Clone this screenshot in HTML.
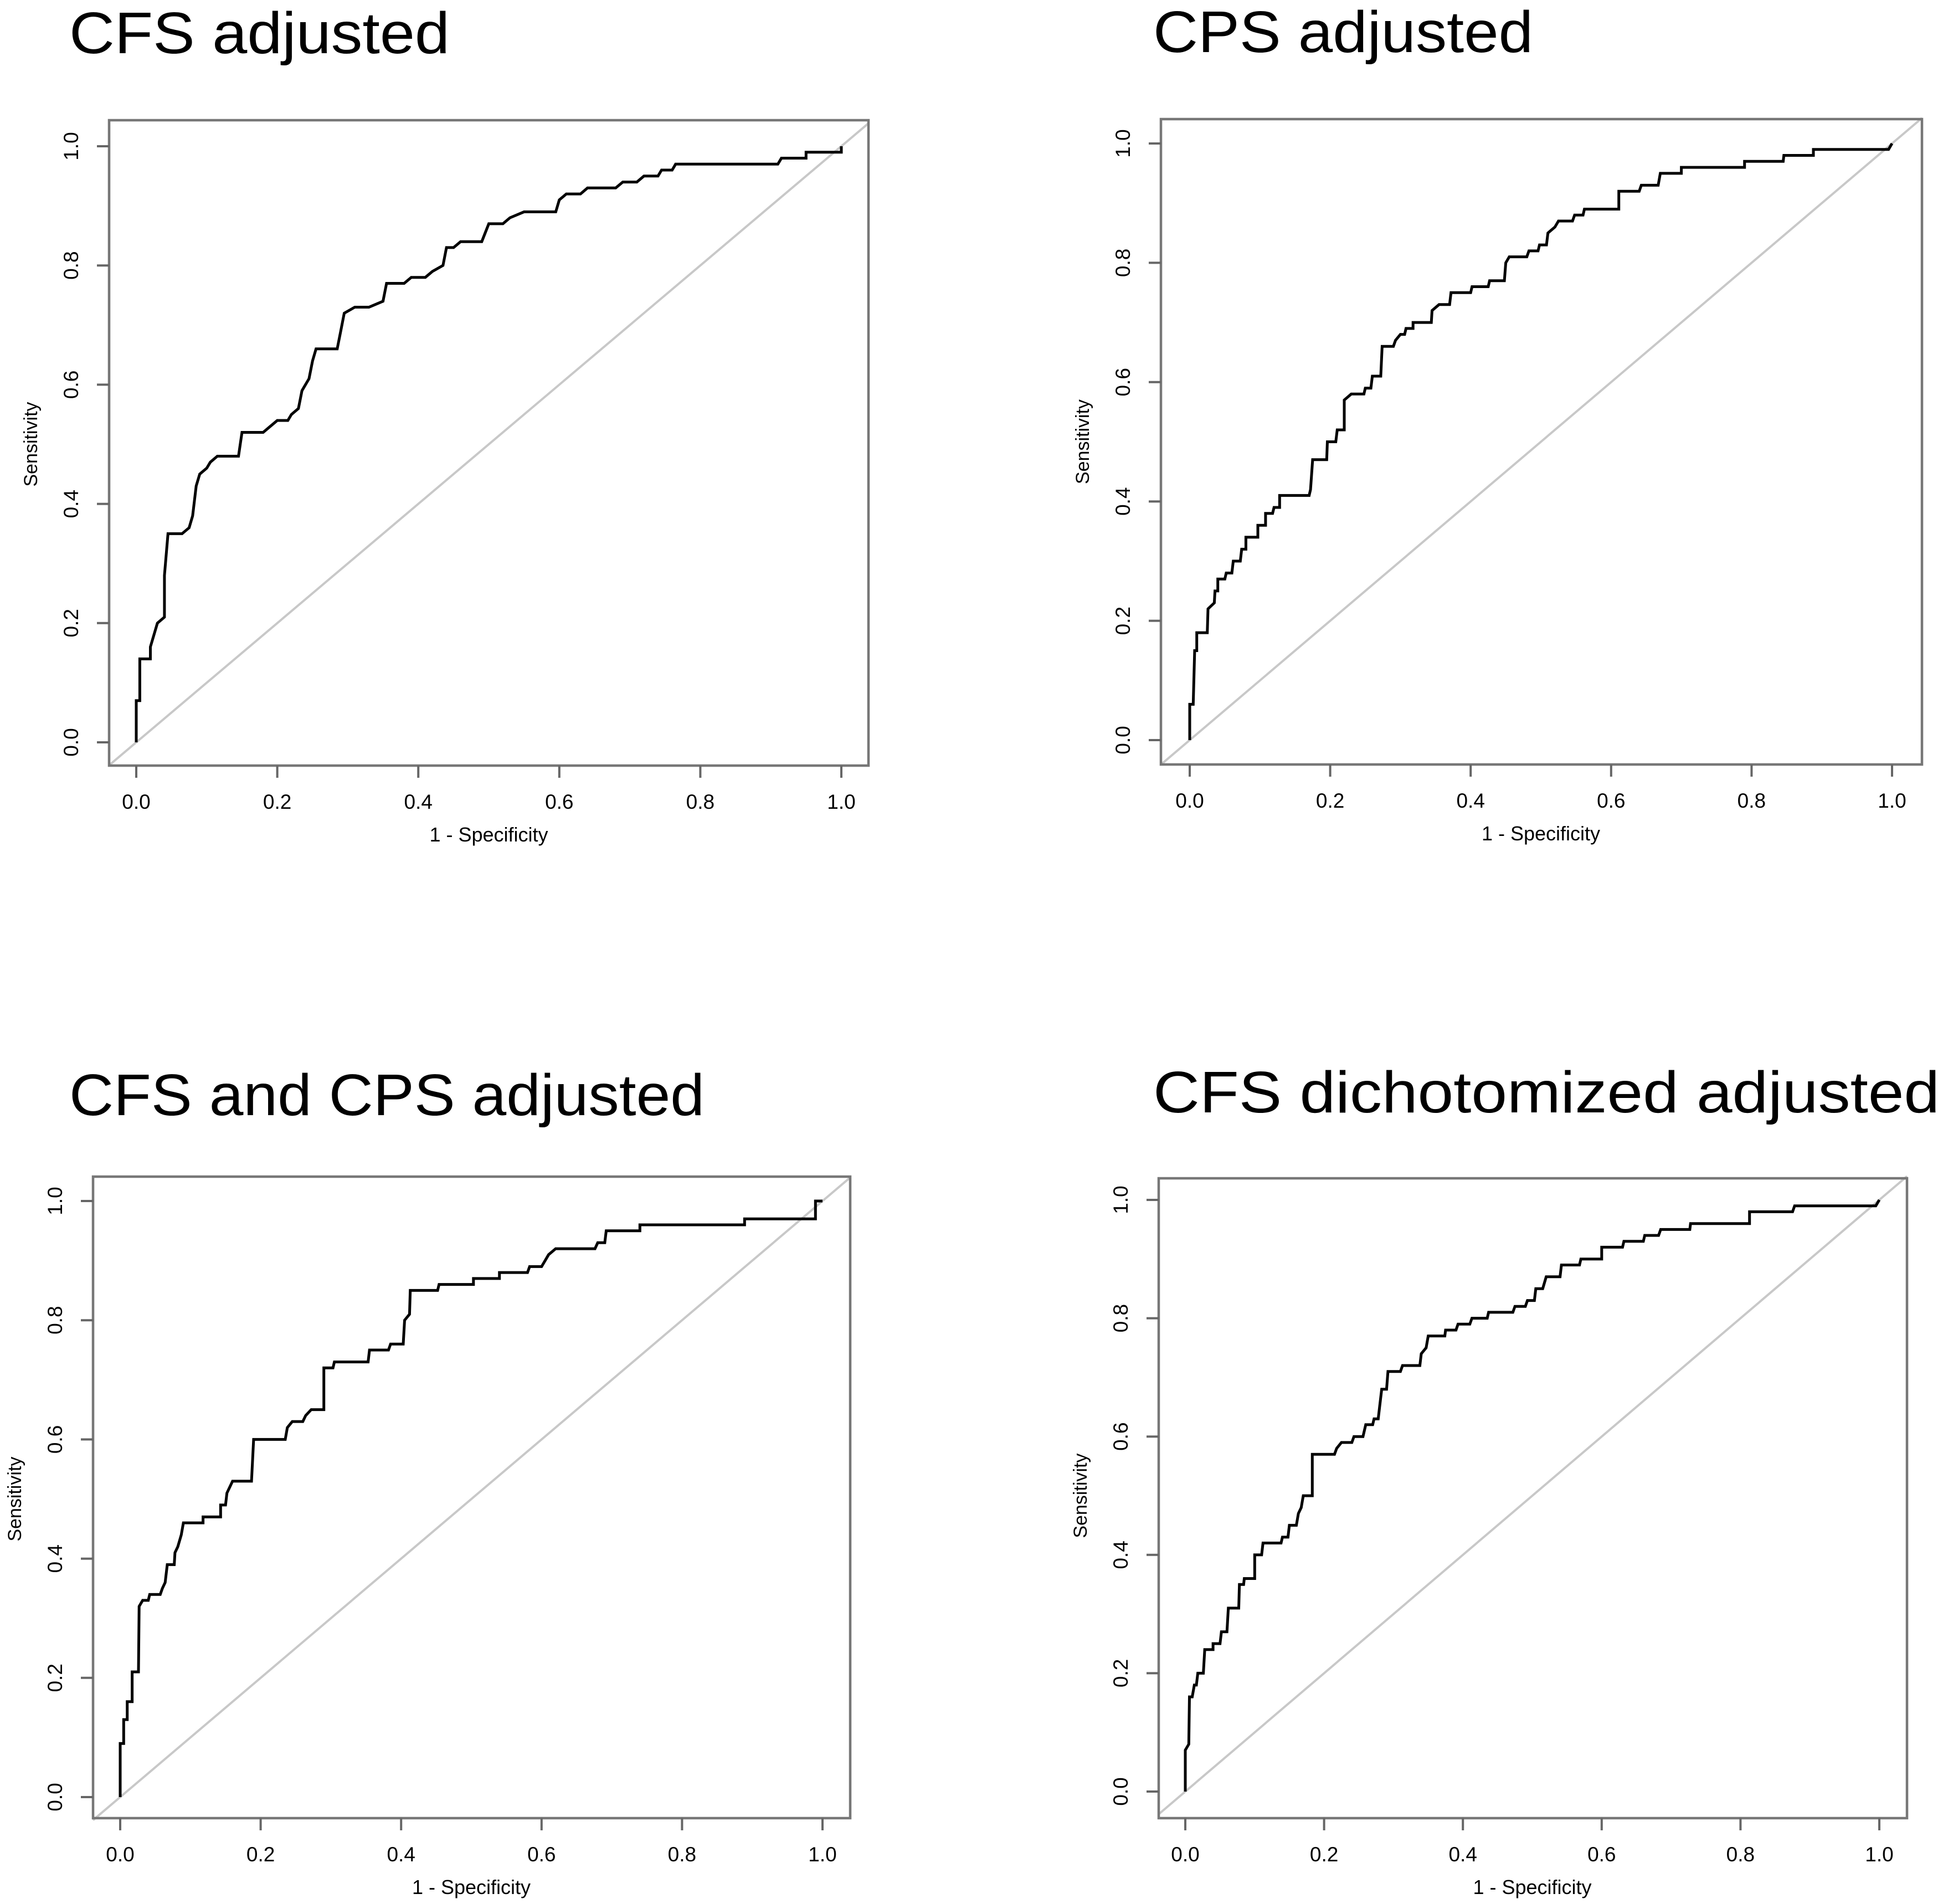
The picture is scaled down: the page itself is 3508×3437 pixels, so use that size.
<!DOCTYPE html>
<html><head><meta charset="utf-8"><title>ROC curves</title>
<style>
html,body{margin:0;padding:0;background:#fff;}
svg{display:block;}
text{font-family:"Liberation Sans",Arial,sans-serif;fill:#000;}
</style></head>
<body>
<svg id="fig" width="3508" height="3437" viewBox="0 0 3508 3437" xmlns="http://www.w3.org/2000/svg"></svg>
<script>
const xTicks = [0, 0.2, 0.4, 0.6, 0.8, 1.0];
const yTicks = [0, 0.2, 0.4, 0.6, 0.8, 1.0];
const tickLabels = ["0.0", "0.2", "0.4", "0.6", "0.8", "1.0"];
const titles = ["CFS adjusted", "CPS adjusted", "CFS and CPS adjusted", "CFS dichotomized adjusted"];

const fpr1 = [0,0,0.005,0.005,0.02,0.02,0.03,0.04,0.04,0.045,0.065,0.075,0.08,0.085,0.09,0.1,0.105,0.115,0.145,0.15,0.18,0.19,0.2,0.215,0.22,0.23,0.235,0.245,0.25,0.255,0.285,0.29,0.295,0.31,0.33,0.35,0.355,0.38,0.39,0.41,0.42,0.435,0.44,0.45,0.46,0.49,0.5,0.52,0.53,0.55,0.595,0.6,0.61,0.63,0.64,0.68,0.69,0.71,0.72,0.74,0.745,0.76,0.765,0.91,0.915,0.95,0.95,1,1];
const tpr1 = [0,0.07,0.07,0.14,0.14,0.16,0.2,0.21,0.28,0.35,0.35,0.36,0.38,0.43,0.45,0.46,0.47,0.48,0.48,0.52,0.52,0.53,0.54,0.54,0.55,0.56,0.59,0.61,0.64,0.66,0.66,0.69,0.72,0.73,0.73,0.74,0.77,0.77,0.78,0.78,0.79,0.8,0.83,0.83,0.84,0.84,0.87,0.87,0.88,0.89,0.89,0.91,0.92,0.92,0.93,0.93,0.94,0.94,0.95,0.95,0.96,0.96,0.97,0.97,0.98,0.98,0.99,0.99,1];

const fpr2 = [0,0,0.005,0.007,0.01,0.01,0.025,0.026,0.035,0.036,0.04,0.04,0.05,0.052,0.06,0.062,0.072,0.074,0.08,0.08,0.097,0.097,0.108,0.108,0.118,0.12,0.128,0.128,0.17,0.172,0.175,0.195,0.196,0.208,0.21,0.22,0.22,0.23,0.248,0.25,0.258,0.26,0.272,0.274,0.29,0.293,0.3,0.306,0.308,0.318,0.318,0.344,0.345,0.355,0.37,0.372,0.4,0.402,0.425,0.427,0.448,0.45,0.455,0.48,0.483,0.496,0.498,0.508,0.51,0.52,0.525,0.545,0.548,0.56,0.562,0.611,0.611,0.64,0.643,0.667,0.67,0.7,0.7,0.79,0.79,0.845,0.846,0.888,0.888,0.995,1];
const tpr2 = [0,0.06,0.06,0.15,0.15,0.18,0.18,0.22,0.23,0.25,0.25,0.27,0.27,0.28,0.28,0.30,0.30,0.32,0.32,0.34,0.34,0.36,0.36,0.38,0.38,0.39,0.39,0.41,0.41,0.42,0.47,0.47,0.5,0.5,0.52,0.52,0.57,0.58,0.58,0.59,0.59,0.61,0.61,0.66,0.66,0.67,0.68,0.68,0.69,0.69,0.7,0.7,0.72,0.73,0.73,0.75,0.75,0.76,0.76,0.77,0.77,0.8,0.81,0.81,0.82,0.82,0.83,0.83,0.85,0.86,0.87,0.87,0.88,0.88,0.89,0.89,0.92,0.92,0.93,0.93,0.95,0.95,0.96,0.96,0.97,0.97,0.98,0.98,0.99,0.99,1];

const fpr3 = [0,0,0.005,0.005,0.01,0.01,0.017,0.017,0.026,0.027,0.032,0.04,0.042,0.057,0.06,0.064,0.067,0.077,0.078,0.082,0.087,0.09,0.118,0.118,0.143,0.143,0.15,0.152,0.16,0.187,0.19,0.235,0.238,0.245,0.26,0.264,0.272,0.29,0.29,0.303,0.305,0.353,0.355,0.382,0.385,0.403,0.405,0.412,0.413,0.452,0.454,0.503,0.503,0.54,0.54,0.58,0.583,0.6,0.61,0.62,0.676,0.68,0.69,0.692,0.74,0.74,0.889,0.889,0.99,0.99,1];
const tpr3 = [0,0.09,0.09,0.13,0.13,0.16,0.16,0.21,0.21,0.32,0.33,0.33,0.34,0.34,0.35,0.36,0.39,0.39,0.41,0.42,0.44,0.46,0.46,0.47,0.47,0.49,0.49,0.51,0.53,0.53,0.6,0.6,0.62,0.63,0.63,0.64,0.65,0.65,0.72,0.72,0.73,0.73,0.75,0.75,0.76,0.76,0.8,0.81,0.85,0.85,0.86,0.86,0.87,0.87,0.88,0.88,0.89,0.89,0.91,0.92,0.92,0.93,0.93,0.95,0.95,0.96,0.96,0.97,0.97,1,1];

const fpr4 = [0,0,0.005,0.006,0.01,0.013,0.016,0.018,0.026,0.028,0.04,0.04,0.05,0.052,0.06,0.062,0.077,0.078,0.084,0.085,0.1,0.1,0.11,0.112,0.138,0.14,0.148,0.15,0.16,0.163,0.167,0.17,0.183,0.183,0.215,0.218,0.225,0.24,0.243,0.256,0.26,0.27,0.272,0.278,0.28,0.283,0.29,0.292,0.31,0.313,0.338,0.34,0.347,0.35,0.374,0.375,0.39,0.393,0.41,0.413,0.435,0.437,0.472,0.475,0.49,0.493,0.503,0.505,0.515,0.52,0.54,0.542,0.568,0.57,0.6,0.6,0.63,0.632,0.66,0.662,0.682,0.685,0.727,0.728,0.813,0.813,0.875,0.878,0.888,0.89,0.995,1];
const tpr4 = [0,0.07,0.08,0.16,0.16,0.18,0.18,0.2,0.2,0.24,0.24,0.25,0.25,0.27,0.27,0.31,0.31,0.35,0.35,0.36,0.36,0.4,0.4,0.42,0.42,0.43,0.43,0.45,0.45,0.47,0.48,0.5,0.5,0.57,0.57,0.58,0.59,0.59,0.6,0.6,0.62,0.62,0.63,0.63,0.65,0.68,0.68,0.71,0.71,0.72,0.72,0.74,0.75,0.77,0.77,0.78,0.78,0.79,0.79,0.8,0.8,0.81,0.81,0.82,0.82,0.83,0.83,0.85,0.85,0.87,0.87,0.89,0.89,0.9,0.9,0.92,0.92,0.93,0.93,0.94,0.94,0.95,0.95,0.96,0.96,0.98,0.98,0.99,0.99,0.99,0.99,1];

const seriesX = [fpr1, fpr2, fpr3, fpr4];
const seriesY = [tpr1, tpr2, tpr3, tpr4];

// layout (pixel geometry)
const panels = [
  {L:197,R:1568,T:217,B:1382,x0:246,x1:1519,y1:264,y0:1340,tx:125,ty:96,tw:687},
  {L:2096,R:3470,T:215,B:1380,x0:2148,x1:3416,y1:259,y0:1336,tx:2082,ty:94,tw:686},
  {L:168,R:1535,T:2124,B:3282,x0:217,x1:1485,y1:2168,y0:3244,tx:125,ty:2013,tw:1147},
  {L:2092,R:3443,T:2127,B:3282,x0:2140,x1:3393,y1:2166,y0:3234,tx:2082,ty:2008,tw:1420}
];

const NS = "http://www.w3.org/2000/svg";
const svg = document.getElementById('fig');
function mk(tag, attrs, parent){
  const e = document.createElementNS(NS, tag);
  for (const k in attrs) e.setAttribute(k, attrs[k]);
  (parent||svg).appendChild(e);
  return e;
}

panels.forEach((p, i) => {
  const sx = v => p.x0 + v * (p.x1 - p.x0);
  const sy = v => p.y0 - v * (p.y0 - p.y1);
  const g = mk('g', {});
  
  

  const t = mk('text', {x:p.tx, y:p.ty, 'font-size':106, textLength:p.tw, lengthAdjust:'spacingAndGlyphs'}, g);
  t.textContent = titles[i];
  
  

  const ext0 = (p.L - p.x0)/(p.x1 - p.x0), ext1 = (p.R - p.x0)/(p.x1 - p.x0);
  const d = mk('line', {x1:sx(ext0), y1:sy(ext0), x2:sx(ext1), y2:sy(ext1), stroke:'#c8c8c8', 'stroke-width':4}, g);
  
  

  const xs = seriesX[i], ys = seriesY[i];
  const pts = xs.map((v, k) => sx(v).toFixed(1) + ',' + sy(ys[k]).toFixed(1)).join(' ');
  const pl = mk('polyline', {points:pts, fill:'none', stroke:'#000', 'stroke-width':5, 'stroke-linejoin':'miter'}, g);
  
  

  const fr = mk('rect', {x:p.L, y:p.T, width:p.R-p.L, height:p.B-p.T, fill:'none', stroke:'#777', 'stroke-width':4.5}, g);
  
  

  xTicks.forEach((v, k) => {
    const tk = mk('line', {x1:sx(v), y1:p.B, x2:sx(v), y2:p.B+22, stroke:'#666', 'stroke-width':4}, g);
    
    
    const lb = mk('text', {x:sx(v), y:p.B+78, 'font-size':37, 'text-anchor':'middle'}, g);
    lb.textContent = tickLabels[k];
    
    
  });
  yTicks.forEach((v, k) => {
    const tk = mk('line', {x1:p.L-22, y1:sy(v), x2:p.L, y2:sy(v), stroke:'#666', 'stroke-width':4}, g);
    
    
    const lx = p.L - 56, ly = sy(v);
    const lb = mk('text', {x:lx, y:ly, 'font-size':37, 'text-anchor':'middle', transform:'rotate(-90 '+lx+' '+ly+')'}, g);
    lb.textContent = tickLabels[k];
    
    
  });
  const xt = mk('text', {x:(p.x0+p.x1)/2, y:p.B+137, 'font-size':36, 'text-anchor':'middle'}, g);
  xt.textContent = '1 - Specificity';
  
  
  const yx = p.L - 130, yy = (p.y0+p.y1)/2;
  const yt = mk('text', {x:yx, y:yy, 'font-size':34, 'text-anchor':'middle', transform:'rotate(-90 '+yx+' '+yy+')'}, g);
  yt.textContent = 'Sensitivity';
  
  
});
</script>
</body></html>
